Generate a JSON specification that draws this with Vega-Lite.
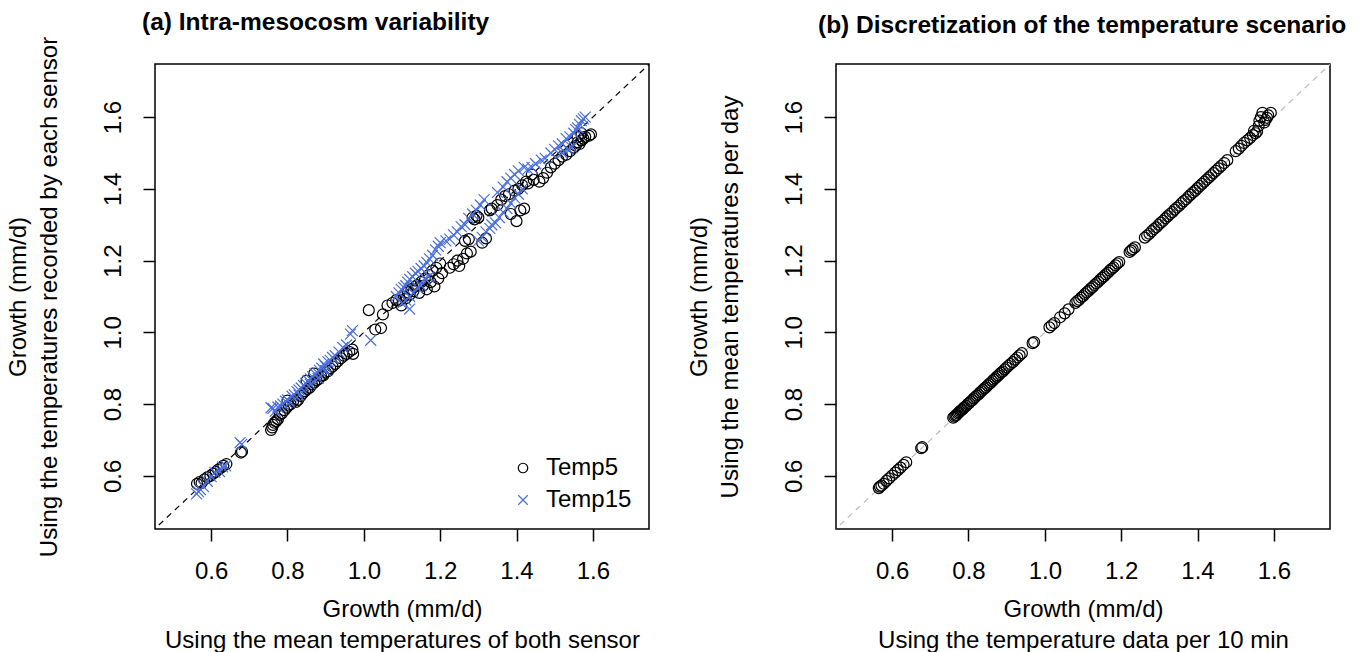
{
  "$schema": "https://vega.github.io/schema/vega-lite/v6.json",
  "background": "white",
  "padding": {"left": 5, "top": 9, "right": 5, "bottom": 0},
  "config": {
    "font": "Liberation Sans",
    "view": {"stroke": "black", "strokeWidth": 1.5},
    "axis": {
      "grid": false, "domain": false, "tickColor": "black", "tickSize": 12, "tickWidth": 1.5,
      "labelFont": "Liberation Sans", "labelFontSize": 24, "labelColor": "black",
      "titleFont": "Liberation Sans", "titleFontWeight": "normal", "titleFontSize": 24, "titleColor": "black", "titleLineHeight": 31
    },
    "axisX": {"labelPadding": 18, "titlePadding": 14},
    "axisY": {"labelAngle": -90, "labelAlign": "center", "labelBaseline": "bottom", "labelPadding": 18, "titlePadding": 40},
    "title": {"font": "Liberation Sans", "fontSize": 24.5, "fontWeight": "bold", "anchor": "start", "frame": "group", "baseline": "alphabetic", "color": "black"},
    "legend": {"labelFont": "Liberation Sans", "labelFontSize": 24, "labelColor": "black"}
  },
  "datasets": {
    "diag": [{"x": 0.4, "y": 0.4}, {"x": 1.8, "y": 1.8}],
    "a": [
      {"x":0.563,"y":0.578,"s":"Temp5"},{"x":0.570,"y":0.583,"s":"Temp5"},{"x":0.575,"y":0.580,"s":"Temp5"},{"x":0.582,"y":0.590,"s":"Temp5"},{"x":0.590,"y":0.596,"s":"Temp5"},{"x":0.598,"y":0.600,"s":"Temp5"},{"x":0.605,"y":0.606,"s":"Temp5"},{"x":0.612,"y":0.611,"s":"Temp5"},{"x":0.618,"y":0.617,"s":"Temp5"},{"x":0.625,"y":0.622,"s":"Temp5"},{"x":0.632,"y":0.628,"s":"Temp5"},{"x":0.640,"y":0.633,"s":"Temp5"},
      {"x":0.678,"y":0.665,"s":"Temp5"},{"x":0.681,"y":0.668,"s":"Temp5"},
      {"x":0.757,"y":0.728,"s":"Temp5"},{"x":0.760,"y":0.735,"s":"Temp5"},{"x":0.762,"y":0.742,"s":"Temp5"},{"x":0.766,"y":0.748,"s":"Temp5"},{"x":0.770,"y":0.752,"s":"Temp5"},{"x":0.775,"y":0.758,"s":"Temp5"},{"x":0.780,"y":0.770,"s":"Temp5"},{"x":0.786,"y":0.775,"s":"Temp5"},{"x":0.792,"y":0.783,"s":"Temp5"},{"x":0.798,"y":0.790,"s":"Temp5"},{"x":0.803,"y":0.796,"s":"Temp5"},{"x":0.808,"y":0.800,"s":"Temp5"},{"x":0.815,"y":0.808,"s":"Temp5"},{"x":0.822,"y":0.806,"s":"Temp5"},{"x":0.828,"y":0.812,"s":"Temp5"},{"x":0.835,"y":0.823,"s":"Temp5"},{"x":0.840,"y":0.830,"s":"Temp5"},{"x":0.846,"y":0.836,"s":"Temp5"},{"x":0.852,"y":0.842,"s":"Temp5"},{"x":0.858,"y":0.846,"s":"Temp5"},{"x":0.864,"y":0.855,"s":"Temp5"},{"x":0.870,"y":0.860,"s":"Temp5"},{"x":0.876,"y":0.866,"s":"Temp5"},{"x":0.882,"y":0.870,"s":"Temp5"},{"x":0.888,"y":0.878,"s":"Temp5"},{"x":0.894,"y":0.880,"s":"Temp5"},{"x":0.900,"y":0.888,"s":"Temp5"},{"x":0.906,"y":0.892,"s":"Temp5"},{"x":0.912,"y":0.900,"s":"Temp5"},{"x":0.918,"y":0.905,"s":"Temp5"},{"x":0.925,"y":0.912,"s":"Temp5"},{"x":0.932,"y":0.920,"s":"Temp5"},{"x":0.940,"y":0.928,"s":"Temp5"},{"x":0.948,"y":0.935,"s":"Temp5"},{"x":0.955,"y":0.940,"s":"Temp5"},{"x":0.962,"y":0.946,"s":"Temp5"},{"x":0.970,"y":0.952,"s":"Temp5"},{"x":0.972,"y":0.940,"s":"Temp5"},{"x":0.870,"y":0.885,"s":"Temp5"},{"x":0.850,"y":0.865,"s":"Temp5"},{"x":0.800,"y":0.810,"s":"Temp5"},
      {"x":1.013,"y":1.062,"s":"Temp5"},{"x":1.030,"y":1.008,"s":"Temp5"},{"x":1.045,"y":1.012,"s":"Temp5"},{"x":1.050,"y":1.050,"s":"Temp5"},{"x":1.062,"y":1.075,"s":"Temp5"},{"x":1.075,"y":1.082,"s":"Temp5"},
      {"x":1.085,"y":1.090,"s":"Temp5"},{"x":1.092,"y":1.088,"s":"Temp5"},{"x":1.098,"y":1.075,"s":"Temp5"},{"x":1.105,"y":1.100,"s":"Temp5"},{"x":1.110,"y":1.095,"s":"Temp5"},{"x":1.115,"y":1.112,"s":"Temp5"},{"x":1.120,"y":1.105,"s":"Temp5"},{"x":1.125,"y":1.120,"s":"Temp5"},{"x":1.130,"y":1.115,"s":"Temp5"},{"x":1.135,"y":1.128,"s":"Temp5"},{"x":1.140,"y":1.132,"s":"Temp5"},{"x":1.145,"y":1.110,"s":"Temp5"},{"x":1.150,"y":1.140,"s":"Temp5"},{"x":1.155,"y":1.130,"s":"Temp5"},{"x":1.160,"y":1.150,"s":"Temp5"},{"x":1.165,"y":1.120,"s":"Temp5"},{"x":1.170,"y":1.160,"s":"Temp5"},{"x":1.175,"y":1.140,"s":"Temp5"},{"x":1.180,"y":1.172,"s":"Temp5"},{"x":1.185,"y":1.128,"s":"Temp5"},{"x":1.190,"y":1.180,"s":"Temp5"},{"x":1.195,"y":1.150,"s":"Temp5"},{"x":1.200,"y":1.192,"s":"Temp5"},{"x":1.205,"y":1.165,"s":"Temp5"},
      {"x":1.225,"y":1.180,"s":"Temp5"},{"x":1.235,"y":1.190,"s":"Temp5"},{"x":1.245,"y":1.200,"s":"Temp5"},{"x":1.250,"y":1.185,"s":"Temp5"},{"x":1.260,"y":1.205,"s":"Temp5"},{"x":1.270,"y":1.220,"s":"Temp5"},{"x":1.280,"y":1.225,"s":"Temp5"},{"x":1.265,"y":1.255,"s":"Temp5"},{"x":1.275,"y":1.260,"s":"Temp5"},{"x":1.285,"y":1.320,"s":"Temp5"},{"x":1.290,"y":1.315,"s":"Temp5"},{"x":1.295,"y":1.325,"s":"Temp5"},{"x":1.300,"y":1.320,"s":"Temp5"},{"x":1.310,"y":1.250,"s":"Temp5"},{"x":1.320,"y":1.262,"s":"Temp5"},{"x":1.330,"y":1.340,"s":"Temp5"},{"x":1.335,"y":1.345,"s":"Temp5"},
      {"x":1.350,"y":1.355,"s":"Temp5"},{"x":1.360,"y":1.370,"s":"Temp5"},{"x":1.370,"y":1.380,"s":"Temp5"},{"x":1.380,"y":1.385,"s":"Temp5"},{"x":1.385,"y":1.330,"s":"Temp5"},{"x":1.395,"y":1.395,"s":"Temp5"},{"x":1.400,"y":1.310,"s":"Temp5"},{"x":1.405,"y":1.400,"s":"Temp5"},{"x":1.410,"y":1.340,"s":"Temp5"},{"x":1.415,"y":1.410,"s":"Temp5"},{"x":1.420,"y":1.345,"s":"Temp5"},{"x":1.425,"y":1.420,"s":"Temp5"},{"x":1.430,"y":1.415,"s":"Temp5"},{"x":1.440,"y":1.440,"s":"Temp5"},{"x":1.445,"y":1.425,"s":"Temp5"},
      {"x":1.460,"y":1.420,"s":"Temp5"},{"x":1.470,"y":1.430,"s":"Temp5"},{"x":1.480,"y":1.445,"s":"Temp5"},{"x":1.490,"y":1.460,"s":"Temp5"},{"x":1.500,"y":1.470,"s":"Temp5"},{"x":1.510,"y":1.480,"s":"Temp5"},{"x":1.520,"y":1.490,"s":"Temp5"},{"x":1.530,"y":1.495,"s":"Temp5"},{"x":1.540,"y":1.505,"s":"Temp5"},{"x":1.550,"y":1.515,"s":"Temp5"},{"x":1.555,"y":1.520,"s":"Temp5"},{"x":1.560,"y":1.530,"s":"Temp5"},{"x":1.565,"y":1.525,"s":"Temp5"},{"x":1.570,"y":1.535,"s":"Temp5"},{"x":1.575,"y":1.540,"s":"Temp5"},{"x":1.580,"y":1.545,"s":"Temp5"},{"x":1.590,"y":1.548,"s":"Temp5"},{"x":1.595,"y":1.552,"s":"Temp5"},{"x":1.560,"y":1.545,"s":"Temp5"},{"x":1.570,"y":1.555,"s":"Temp5"},
      {"x":0.562,"y":0.550,"s":"Temp15"},{"x":0.567,"y":0.556,"s":"Temp15"},{"x":0.572,"y":0.562,"s":"Temp15"},{"x":0.580,"y":0.570,"s":"Temp15"},{"x":0.590,"y":0.585,"s":"Temp15"},{"x":0.600,"y":0.598,"s":"Temp15"},{"x":0.610,"y":0.610,"s":"Temp15"},{"x":0.622,"y":0.612,"s":"Temp15"},{"x":0.630,"y":0.625,"s":"Temp15"},{"x":0.638,"y":0.628,"s":"Temp15"},
      {"x":0.676,"y":0.693,"s":"Temp15"},{"x":0.680,"y":0.688,"s":"Temp15"},
      {"x":0.757,"y":0.790,"s":"Temp15"},{"x":0.762,"y":0.788,"s":"Temp15"},{"x":0.768,"y":0.780,"s":"Temp15"},{"x":0.775,"y":0.792,"s":"Temp15"},{"x":0.782,"y":0.795,"s":"Temp15"},{"x":0.788,"y":0.800,"s":"Temp15"},{"x":0.795,"y":0.808,"s":"Temp15"},{"x":0.800,"y":0.812,"s":"Temp15"},{"x":0.806,"y":0.805,"s":"Temp15"},{"x":0.812,"y":0.822,"s":"Temp15"},{"x":0.818,"y":0.826,"s":"Temp15"},{"x":0.825,"y":0.835,"s":"Temp15"},{"x":0.830,"y":0.840,"s":"Temp15"},{"x":0.836,"y":0.845,"s":"Temp15"},{"x":0.842,"y":0.852,"s":"Temp15"},{"x":0.848,"y":0.858,"s":"Temp15"},{"x":0.854,"y":0.866,"s":"Temp15"},{"x":0.860,"y":0.870,"s":"Temp15"},{"x":0.866,"y":0.876,"s":"Temp15"},{"x":0.872,"y":0.885,"s":"Temp15"},{"x":0.878,"y":0.888,"s":"Temp15"},{"x":0.884,"y":0.894,"s":"Temp15"},{"x":0.890,"y":0.900,"s":"Temp15"},{"x":0.895,"y":0.912,"s":"Temp15"},{"x":0.900,"y":0.905,"s":"Temp15"},{"x":0.906,"y":0.918,"s":"Temp15"},{"x":0.912,"y":0.922,"s":"Temp15"},{"x":0.918,"y":0.930,"s":"Temp15"},{"x":0.925,"y":0.935,"s":"Temp15"},{"x":0.935,"y":0.945,"s":"Temp15"},{"x":0.945,"y":0.958,"s":"Temp15"},{"x":0.955,"y":0.965,"s":"Temp15"},{"x":0.965,"y":0.995,"s":"Temp15"},{"x":0.970,"y":1.005,"s":"Temp15"},{"x":1.018,"y":0.978,"s":"Temp15"},{"x":0.830,"y":0.825,"s":"Temp15"},{"x":0.860,"y":0.855,"s":"Temp15"},{"x":0.880,"y":0.872,"s":"Temp15"},{"x":0.900,"y":0.893,"s":"Temp15"},
      {"x":1.085,"y":1.100,"s":"Temp15"},{"x":1.092,"y":1.110,"s":"Temp15"},{"x":1.098,"y":1.120,"s":"Temp15"},{"x":1.105,"y":1.125,"s":"Temp15"},{"x":1.110,"y":1.130,"s":"Temp15"},{"x":1.115,"y":1.140,"s":"Temp15"},{"x":1.120,"y":1.148,"s":"Temp15"},{"x":1.128,"y":1.155,"s":"Temp15"},{"x":1.135,"y":1.165,"s":"Temp15"},{"x":1.142,"y":1.170,"s":"Temp15"},{"x":1.150,"y":1.178,"s":"Temp15"},{"x":1.158,"y":1.185,"s":"Temp15"},{"x":1.165,"y":1.195,"s":"Temp15"},{"x":1.172,"y":1.205,"s":"Temp15"},{"x":1.180,"y":1.215,"s":"Temp15"},{"x":1.188,"y":1.230,"s":"Temp15"},{"x":1.195,"y":1.240,"s":"Temp15"},{"x":1.200,"y":1.250,"s":"Temp15"},{"x":1.100,"y":1.080,"s":"Temp15"},{"x":1.110,"y":1.090,"s":"Temp15"},{"x":1.120,"y":1.100,"s":"Temp15"},{"x":1.130,"y":1.110,"s":"Temp15"},{"x":1.140,"y":1.125,"s":"Temp15"},{"x":1.150,"y":1.130,"s":"Temp15"},{"x":1.160,"y":1.150,"s":"Temp15"},{"x":1.170,"y":1.155,"s":"Temp15"},{"x":1.120,"y":1.065,"s":"Temp15"},
      {"x":1.215,"y":1.255,"s":"Temp15"},{"x":1.225,"y":1.260,"s":"Temp15"},{"x":1.235,"y":1.272,"s":"Temp15"},{"x":1.245,"y":1.280,"s":"Temp15"},{"x":1.255,"y":1.295,"s":"Temp15"},{"x":1.265,"y":1.300,"s":"Temp15"},{"x":1.275,"y":1.318,"s":"Temp15"},{"x":1.285,"y":1.330,"s":"Temp15"},{"x":1.295,"y":1.340,"s":"Temp15"},{"x":1.305,"y":1.355,"s":"Temp15"},{"x":1.315,"y":1.370,"s":"Temp15"},{"x":1.300,"y":1.255,"s":"Temp15"},{"x":1.310,"y":1.265,"s":"Temp15"},{"x":1.320,"y":1.280,"s":"Temp15"},{"x":1.330,"y":1.290,"s":"Temp15"},
      {"x":1.335,"y":1.300,"s":"Temp15"},{"x":1.345,"y":1.305,"s":"Temp15"},{"x":1.355,"y":1.320,"s":"Temp15"},{"x":1.365,"y":1.335,"s":"Temp15"},{"x":1.375,"y":1.345,"s":"Temp15"},{"x":1.385,"y":1.360,"s":"Temp15"},{"x":1.395,"y":1.375,"s":"Temp15"},{"x":1.405,"y":1.385,"s":"Temp15"},{"x":1.415,"y":1.400,"s":"Temp15"},{"x":1.350,"y":1.390,"s":"Temp15"},{"x":1.365,"y":1.405,"s":"Temp15"},{"x":1.375,"y":1.420,"s":"Temp15"},{"x":1.385,"y":1.430,"s":"Temp15"},{"x":1.395,"y":1.440,"s":"Temp15"},{"x":1.405,"y":1.450,"s":"Temp15"},{"x":1.420,"y":1.460,"s":"Temp15"},{"x":1.430,"y":1.455,"s":"Temp15"},{"x":1.440,"y":1.460,"s":"Temp15"},{"x":1.450,"y":1.470,"s":"Temp15"},
      {"x":1.465,"y":1.480,"s":"Temp15"},{"x":1.475,"y":1.485,"s":"Temp15"},{"x":1.490,"y":1.500,"s":"Temp15"},{"x":1.500,"y":1.510,"s":"Temp15"},{"x":1.510,"y":1.520,"s":"Temp15"},{"x":1.520,"y":1.525,"s":"Temp15"},{"x":1.530,"y":1.540,"s":"Temp15"},{"x":1.540,"y":1.545,"s":"Temp15"},{"x":1.550,"y":1.555,"s":"Temp15"},{"x":1.555,"y":1.565,"s":"Temp15"},{"x":1.560,"y":1.570,"s":"Temp15"},{"x":1.565,"y":1.580,"s":"Temp15"},{"x":1.570,"y":1.590,"s":"Temp15"},{"x":1.575,"y":1.595,"s":"Temp15"},{"x":1.580,"y":1.600,"s":"Temp15"},{"x":1.520,"y":1.500,"s":"Temp15"},{"x":1.535,"y":1.510,"s":"Temp15"},{"x":1.545,"y":1.515,"s":"Temp15"}
    ],
    "b": [
      {"x":0.565,"y":0.566},{"x":0.568,"y":0.570},{"x":0.572,"y":0.573},{"x":0.578,"y":0.578},{"x":0.585,"y":0.586},{"x":0.592,"y":0.593},{"x":0.600,"y":0.601},{"x":0.608,"y":0.609},{"x":0.615,"y":0.616},{"x":0.622,"y":0.623},{"x":0.630,"y":0.631},{"x":0.637,"y":0.638},
      {"x":0.676,"y":0.677},{"x":0.679,"y":0.680},
      {"x":0.760,"y":0.762},{"x":0.763,"y":0.765},{"x":0.766,"y":0.768},{"x":0.769,"y":0.770},{"x":0.772,"y":0.774},{"x":0.775,"y":0.777},{"x":0.778,"y":0.780},{"x":0.781,"y":0.783},{"x":0.784,"y":0.785},{"x":0.787,"y":0.789},{"x":0.790,"y":0.792},{"x":0.794,"y":0.795},{"x":0.798,"y":0.800},{"x":0.802,"y":0.803},{"x":0.806,"y":0.808},{"x":0.810,"y":0.811},{"x":0.814,"y":0.816},{"x":0.818,"y":0.820},{"x":0.822,"y":0.824},{"x":0.826,"y":0.827},{"x":0.830,"y":0.832},{"x":0.834,"y":0.836},{"x":0.838,"y":0.840},{"x":0.842,"y":0.844},{"x":0.846,"y":0.847},{"x":0.850,"y":0.852},{"x":0.854,"y":0.856},{"x":0.858,"y":0.859},{"x":0.862,"y":0.864},{"x":0.866,"y":0.868},{"x":0.870,"y":0.872},{"x":0.874,"y":0.876},{"x":0.878,"y":0.880},{"x":0.882,"y":0.884},{"x":0.886,"y":0.888},{"x":0.890,"y":0.891},{"x":0.895,"y":0.897},{"x":0.900,"y":0.902},{"x":0.905,"y":0.907},{"x":0.910,"y":0.912},{"x":0.916,"y":0.917},{"x":0.922,"y":0.924},{"x":0.928,"y":0.930},{"x":0.934,"y":0.936},{"x":0.940,"y":0.942},{"x":0.968,"y":0.970},{"x":0.972,"y":0.973},
      {"x":1.012,"y":1.014},{"x":1.018,"y":1.020},{"x":1.025,"y":1.026},{"x":1.040,"y":1.042},{"x":1.052,"y":1.053},{"x":1.062,"y":1.064},
      {"x":1.080,"y":1.082},{"x":1.085,"y":1.087},{"x":1.090,"y":1.091},{"x":1.095,"y":1.097},{"x":1.100,"y":1.101},{"x":1.105,"y":1.107},{"x":1.110,"y":1.112},{"x":1.115,"y":1.116},{"x":1.120,"y":1.122},{"x":1.125,"y":1.126},{"x":1.130,"y":1.132},{"x":1.135,"y":1.137},{"x":1.140,"y":1.141},{"x":1.145,"y":1.147},{"x":1.150,"y":1.152},{"x":1.155,"y":1.156},{"x":1.160,"y":1.162},{"x":1.165,"y":1.166},{"x":1.170,"y":1.172},{"x":1.175,"y":1.177},{"x":1.180,"y":1.181},{"x":1.185,"y":1.187},{"x":1.190,"y":1.192},{"x":1.195,"y":1.196},
      {"x":1.222,"y":1.224},{"x":1.226,"y":1.228},{"x":1.230,"y":1.232},{"x":1.236,"y":1.237},
      {"x":1.262,"y":1.264},{"x":1.268,"y":1.270},{"x":1.274,"y":1.275},{"x":1.280,"y":1.282},{"x":1.286,"y":1.288},{"x":1.292,"y":1.293},{"x":1.298,"y":1.300},{"x":1.304,"y":1.306},{"x":1.310,"y":1.311},{"x":1.316,"y":1.318},{"x":1.322,"y":1.324},{"x":1.328,"y":1.330},{"x":1.334,"y":1.335},{"x":1.340,"y":1.342},{"x":1.346,"y":1.348},{"x":1.352,"y":1.353},{"x":1.358,"y":1.360},{"x":1.364,"y":1.366},{"x":1.370,"y":1.371},{"x":1.376,"y":1.378},{"x":1.382,"y":1.384},{"x":1.388,"y":1.390},{"x":1.394,"y":1.395},{"x":1.400,"y":1.402},{"x":1.406,"y":1.408},{"x":1.412,"y":1.414},{"x":1.418,"y":1.420},{"x":1.424,"y":1.426},{"x":1.430,"y":1.432},{"x":1.436,"y":1.438},{"x":1.442,"y":1.444},{"x":1.448,"y":1.450},{"x":1.455,"y":1.457},{"x":1.462,"y":1.464},{"x":1.470,"y":1.472},{"x":1.478,"y":1.480},
      {"x":1.500,"y":1.505},{"x":1.508,"y":1.512},{"x":1.515,"y":1.520},{"x":1.522,"y":1.528},{"x":1.530,"y":1.535},{"x":1.538,"y":1.542},{"x":1.545,"y":1.550},{"x":1.548,"y":1.562},{"x":1.552,"y":1.555},{"x":1.556,"y":1.560},{"x":1.560,"y":1.575},{"x":1.562,"y":1.590},{"x":1.566,"y":1.600},{"x":1.570,"y":1.612},{"x":1.575,"y":1.585},{"x":1.578,"y":1.592},{"x":1.582,"y":1.598},{"x":1.585,"y":1.605},{"x":1.592,"y":1.612}
    ]
  },
  "bounds": "flush",
  "spacing": 187,
  "hconcat": [
    {
      "width": 494, "height": 465,
      "title": {"text": "(a) Intra-mesocosm variability", "dx": -13, "offset": 1},
      "encoding": {
        "x": {"field": "x", "type": "quantitative", "scale": {"domain": [0.453, 1.747], "nice": false, "zero": false},
              "axis": {"values": [0.6, 0.8, 1.0, 1.2, 1.4, 1.6], "format": ".1f", "title": ["Growth (mm/d)", "Using the mean temperatures of both sensor"]}},
        "y": {"field": "y", "type": "quantitative", "scale": {"domain": [0.452, 1.748], "nice": false, "zero": false},
              "axis": {"values": [0.6, 0.8, 1.0, 1.2, 1.4, 1.6], "format": ".1f", "title": ["Growth (mm/d)", "Using the temperatures recorded by each sensor"]}}
      },
      "layer": [
        {"data": {"name": "diag"}, "mark": {"type": "line", "clip": true, "color": "black", "strokeWidth": 1.2, "strokeDash": [6, 5]}},
        {"data": {"name": "a"},
         "mark": {"type": "point", "filled": false, "strokeWidth": 1.2, "size": 120, "opacity": 1},
         "encoding": {
           "shape": {"field": "s", "type": "nominal", "scale": {"domain": ["Temp5", "Temp15"], "range": ["circle", "M-1,-1L1,1M1,-1L-1,1"]}},
           "color": {"field": "s", "type": "nominal", "scale": {"domain": ["Temp5", "Temp15"], "range": ["black", "#4a6fdc"]},
                     "legend": {"title": null, "orient": "none", "legendX": 356, "legendY": 392, "symbolSize": 90, "symbolStrokeWidth": 1.2, "labelOffset": 11, "rowPadding": 8, "padding": 0}}
         }}
      ]
    },
    {
      "width": 494, "height": 465,
      "title": {"text": "(b) Discretization of the temperature scenario", "dx": -18, "offset": 26},
      "encoding": {
        "x": {"field": "x", "type": "quantitative", "scale": {"domain": [0.453, 1.747], "nice": false, "zero": false},
              "axis": {"values": [0.6, 0.8, 1.0, 1.2, 1.4, 1.6], "format": ".1f", "title": ["Growth (mm/d)", "Using the temperature data per 10 min"]}},
        "y": {"field": "y", "type": "quantitative", "scale": {"domain": [0.452, 1.748], "nice": false, "zero": false},
              "axis": {"values": [0.6, 0.8, 1.0, 1.2, 1.4, 1.6], "format": ".1f", "title": ["Growth (mm/d)", "Using the mean temperatures per day"]}}
      },
      "layer": [
        {"data": {"name": "diag"}, "mark": {"type": "line", "clip": true, "color": "#bdbdbd", "strokeWidth": 1.2, "strokeDash": [6, 5]}},
        {"data": {"name": "b"}, "mark": {"type": "point", "filled": false, "strokeWidth": 1.2, "size": 120, "opacity": 1, "color": "black"}}
      ]
    }
  ]
}
